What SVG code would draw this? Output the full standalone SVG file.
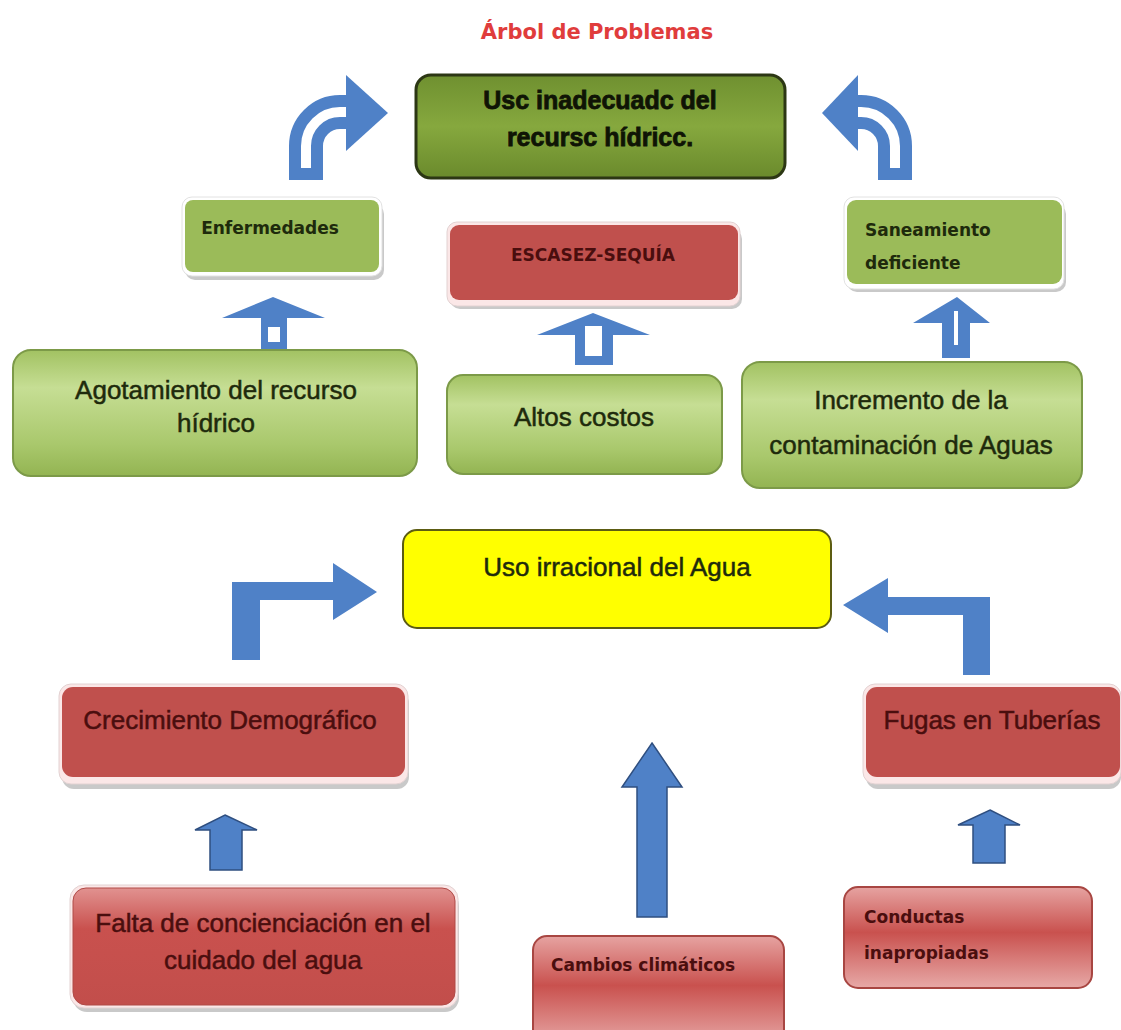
<svg xmlns="http://www.w3.org/2000/svg" width="1121" height="1030" viewBox="0 0 1121 1030">
<defs>
<linearGradient id="gTop" x1="0" y1="0" x2="0" y2="1">
<stop offset="0" stop-color="#6f9030"/><stop offset="0.5" stop-color="#86a83e"/><stop offset="1" stop-color="#6a8a2c"/>
</linearGradient>
<linearGradient id="gLight" x1="0" y1="0" x2="0" y2="1">
<stop offset="0" stop-color="#a2c262"/><stop offset="0.3" stop-color="#c6de94"/><stop offset="0.75" stop-color="#a9c86c"/><stop offset="1" stop-color="#93b452"/>
</linearGradient>
<linearGradient id="gPink" x1="0" y1="0" x2="0" y2="1">
<stop offset="0" stop-color="#e6a3a1"/><stop offset="0.45" stop-color="#c9514e"/><stop offset="1" stop-color="#e7a9a7"/>
</linearGradient>
<linearGradient id="gPinkTop" x1="0" y1="0" x2="0" y2="1">
<stop offset="0" stop-color="#e19290"/><stop offset="0.35" stop-color="#c9514e"/><stop offset="1" stop-color="#c24e4b"/>
</linearGradient>
</defs>
<style>
.blue{fill:#4f81c7}
.bluel{fill:#4f81c7;stroke:#2f4f80;stroke-width:1.5}
.band{fill:none;stroke:#4f81c7;stroke-width:34}
.inner{fill:none;stroke:#ffffff;stroke-width:10}
.shadow{fill:#c9c9c9}
.rim{fill:#ffffff;stroke:#e2e2e2;stroke-width:1}
.rimp{fill:#fbe7e7;stroke:#e2d2d2;stroke-width:1}
.green{fill:#9bbb59}
.red{fill:#c0504d}
.light{fill:url(#gLight);stroke:#7c9a48;stroke-width:2}
.pink{fill:url(#gPink);stroke:#a84642;stroke-width:2}
.comic{font-family:"Liberation Sans","DejaVu Sans",sans-serif;font-size:26px;text-anchor:middle;stroke-width:0.5}
.lbl{font-family:"DejaVu Sans","Liberation Sans",sans-serif;font-size:17px;font-weight:bold}
.tg{fill:#1e2a0c;stroke:#1e2a0c}
.tr{fill:#4a0e0e;stroke:#4a0e0e}
.lbl.tg,.lbl.tr{stroke:none}
</style>

<text x="597" y="39" font-family="DejaVu Sans, Liberation Sans, sans-serif" font-size="21" font-weight="bold" fill="#e03c3c" text-anchor="middle">Árbol de Problemas</text>

<g id="connectors">
<path class="band" d="M306,180 V146 A34,34 0 0 1 340,112 H350"/>
<path class="inner" d="M306,168 V146 A34,34 0 0 1 340,112 H352"/>
<polygon class="blue" points="346,75 388,113 346,151"/>
<path class="band" d="M895,180 V146 A34,34 0 0 0 861,112 H852"/>
<path class="inner" d="M895,168 V146 A34,34 0 0 0 861,112 H852"/>
<polygon class="blue" points="858,75 822,113 858,151"/>
<polygon class="blue" points="273,297 325,318 287,318 287,353 261,353 261,318 222,318"/>
<rect x="268" y="327" width="12" height="15" fill="#ffffff"/>
<polygon class="blue" points="593,313 650,335 613,335 613,365 575,365 575,335 537,335"/>
<rect x="585" y="326" width="17" height="30" fill="#ffffff"/>
<polygon class="blue" points="957,297 990,323 970,323 970,358 942,358 942,323 913,323"/>
<rect x="954" y="311" width="4" height="34" fill="#ffffff"/>
<polygon class="blue" points="232,582 333,582 333,563 377,592 333,620 333,600 260,600 260,660 232,660"/>
<polygon class="blue" points="990,597 888,597 888,578 843,605 888,633 888,615 963,615 963,675 990,675"/>
<polygon class="bluel" points="652,743 682,787 667,787 667,917 637,917 637,787 622,787"/>
<polygon class="bluel" points="225,815 257,830 242,830 242,870 210,870 210,830 195,830"/>
<polygon class="bluel" points="990,810 1020,825 1005,825 1005,863 973,863 973,825 958,825"/>
</g>

<g id="n-top">
<rect x="416" y="75" width="369" height="103" rx="15" fill="url(#gTop)" stroke="#2c3714" stroke-width="3"/>
<text x="600" y="109" font-family="Liberation Sans, sans-serif" font-size="25" font-weight="bold" fill="#0f1405" stroke="#0f1405" stroke-width="0.8" text-anchor="middle">Usc inadecuadc del</text>
<text x="600" y="146" font-family="Liberation Sans, sans-serif" font-size="25" font-weight="bold" fill="#0f1405" stroke="#0f1405" stroke-width="0.8" text-anchor="middle">recursc hídricc.</text>
</g>

<g id="n-enfermedades">
<rect class="shadow" x="185" y="204" width="199" height="76" rx="10"/>
<rect class="rim" x="182" y="197" width="200" height="79" rx="10"/>
<rect class="green" x="185" y="200" width="194" height="72" rx="8"/>
<text class="lbl tg" x="270" y="234" text-anchor="middle">Enfermedades</text>
</g>

<g id="n-escasez">
<rect class="shadow" x="450" y="229" width="292" height="80" rx="10"/>
<rect class="rimp" x="447" y="222" width="293" height="84" rx="10"/>
<rect class="red" x="450" y="225" width="288" height="75" rx="9"/>
<text class="lbl tr" x="593" y="261" text-anchor="middle">ESCASEZ-SEQUÍA</text>
</g>

<g id="n-saneamiento">
<rect class="shadow" x="847" y="204" width="219" height="88" rx="10"/>
<rect class="rim" x="844" y="197" width="220" height="92" rx="10"/>
<rect class="green" x="847" y="200" width="215" height="84" rx="9"/>
<text class="lbl tg" x="865" y="236">Saneamiento</text>
<text class="lbl tg" x="865" y="269">deficiente</text>
</g>

<g id="n-agotamiento">
<rect class="light" x="13" y="350" width="404" height="126" rx="18"/>
<text class="comic tg" x="216" y="399">Agotamiento del recurso</text>
<text class="comic tg" x="216" y="432">hídrico</text>
</g>

<g id="n-altos">
<rect class="light" x="447" y="375" width="275" height="99" rx="16"/>
<text class="comic tg" x="584" y="426">Altos costos</text>
</g>

<g id="n-incremento">
<rect class="light" x="742" y="362" width="340" height="126" rx="18"/>
<text class="comic tg" x="911" y="409">Incremento de la</text>
<text class="comic tg" x="911" y="454">contaminación de Aguas</text>
</g>

<g id="n-uso">
<rect x="403" y="530" width="428" height="98" rx="14" fill="#ffff00" stroke="#5c5c12" stroke-width="2"/>
<text class="comic tg" x="617" y="576">Uso irracional del Agua</text>
</g>

<g id="n-crecimiento">
<rect class="shadow" x="62" y="691" width="347" height="98" rx="12"/>
<rect class="rimp" x="59" y="684" width="349" height="100" rx="12"/>
<rect class="red" x="62" y="687" width="343" height="90" rx="11"/>
<text class="comic tr" x="230" y="729">Crecimiento Demográfico</text>
</g>

<g id="n-fugas">
<rect class="shadow" x="866" y="691" width="255" height="98" rx="12"/>
<rect class="rimp" x="863" y="684" width="258" height="100" rx="12"/>
<rect class="red" x="866" y="687" width="254" height="90" rx="11"/>
<text class="comic tr" x="992" y="729">Fugas en Tuberías</text>
</g>

<g id="n-falta">
<rect class="shadow" x="73" y="892" width="386" height="120" rx="14"/>
<rect class="rimp" x="70" y="885" width="388" height="123" rx="14"/>
<rect x="73" y="888" width="382" height="117" rx="13" fill="url(#gPinkTop)" stroke="#b04a47" stroke-width="1"/>
<text class="comic tr" x="263" y="932">Falta de concienciación en el</text>
<text class="comic tr" x="263" y="969">cuidado del agua</text>
</g>

<g id="n-cambios">
<rect class="pink" x="533" y="936" width="251" height="110" rx="14"/>
<text class="lbl tr" x="551" y="971">Cambios climáticos</text>
</g>

<g id="n-conductas">
<rect class="pink" x="844" y="887" width="248" height="101" rx="14"/>
<text class="lbl tr" x="864" y="923">Conductas</text>
<text class="lbl tr" x="864" y="959">inapropiadas</text>
</g>
</svg>
